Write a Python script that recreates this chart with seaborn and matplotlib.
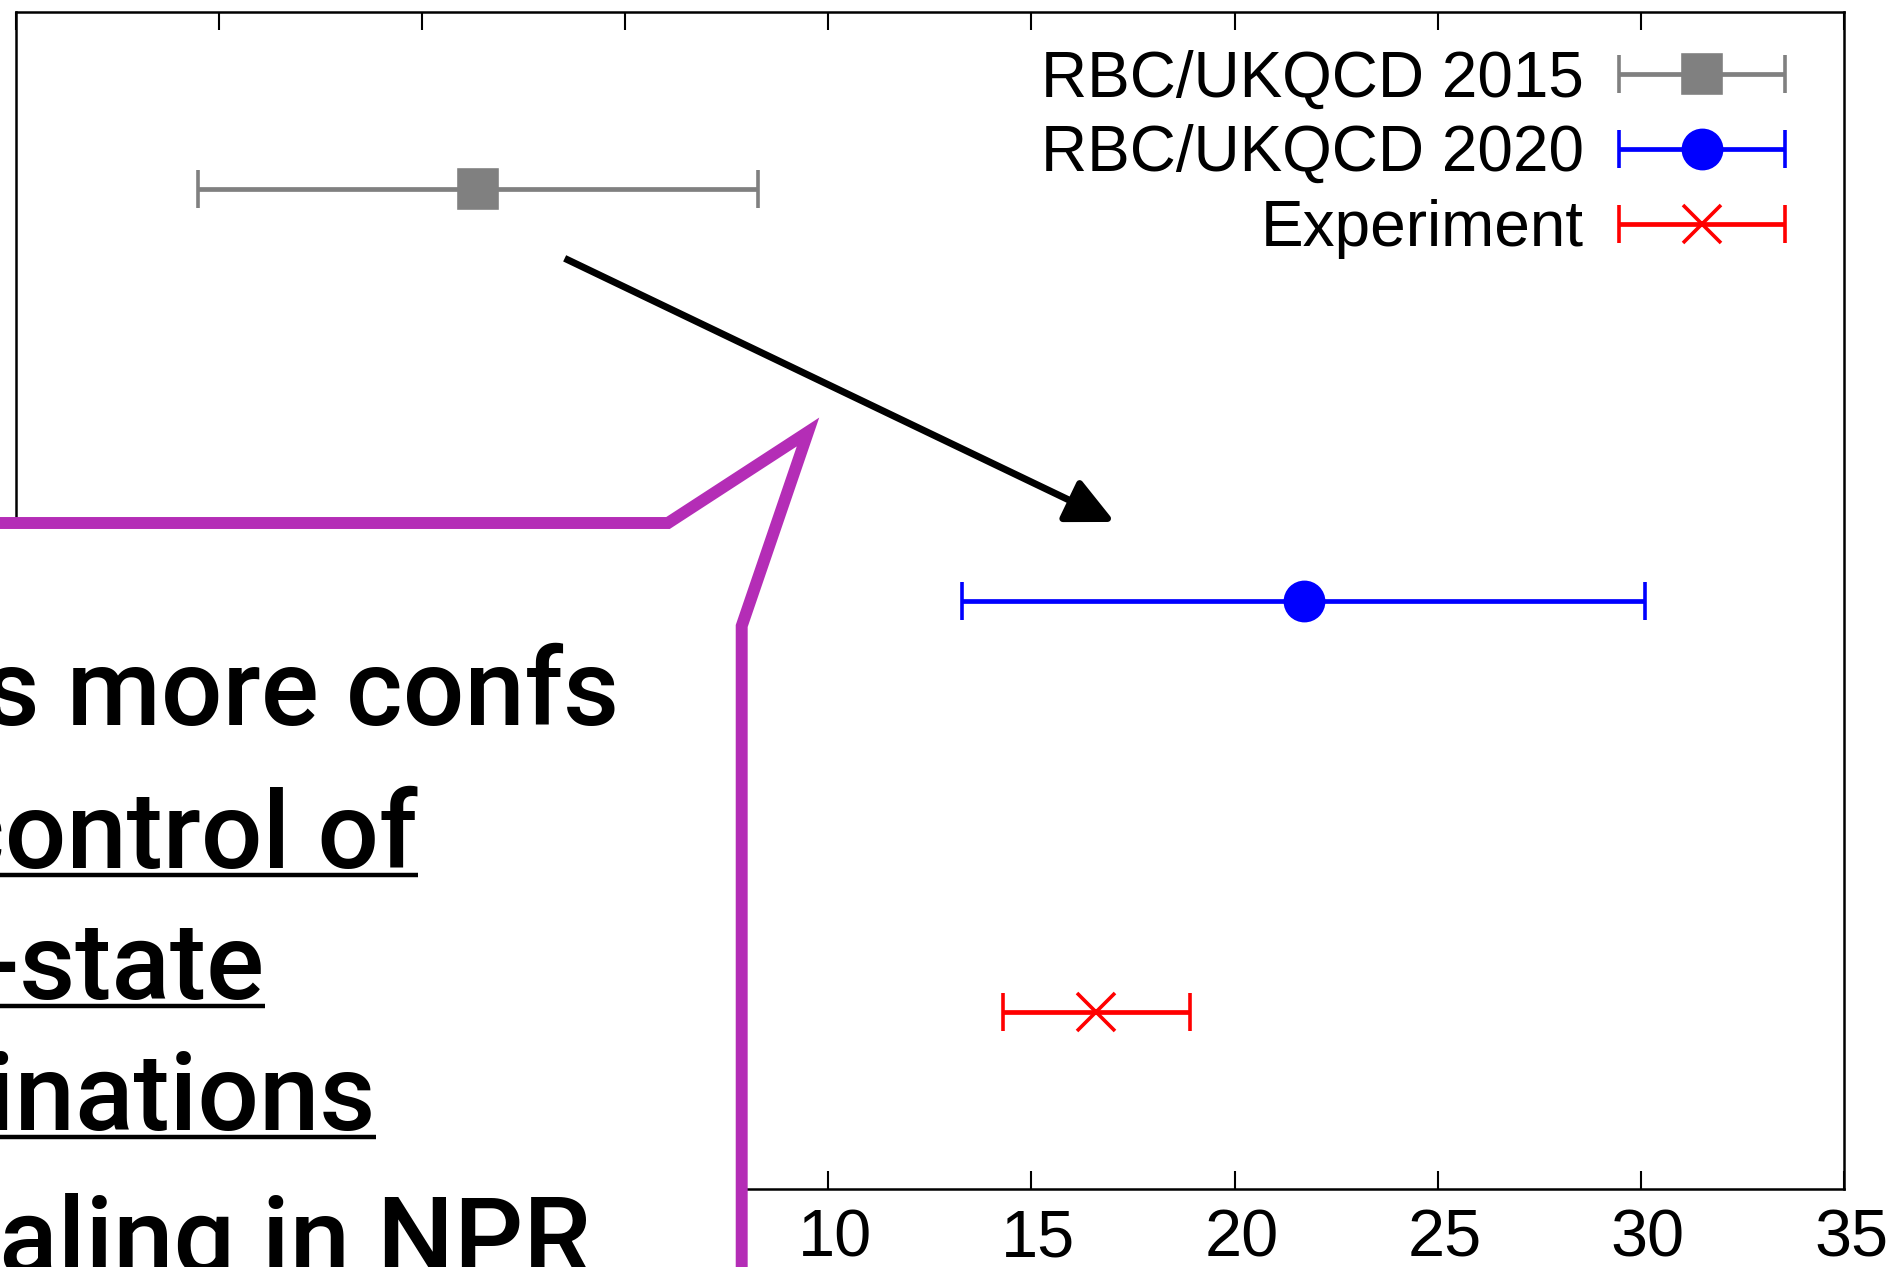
import numpy as np
import matplotlib
matplotlib.use("Agg")
import matplotlib.pyplot as plt
import seaborn as sns
from matplotlib.patches import Polygon, FancyArrowPatch
from matplotlib.lines import Line2D
from matplotlib.container import ErrorbarContainer
from matplotlib.legend_handler import HandlerErrorbar
from matplotlib.transforms import ScaledTranslation

# ---------------- data ----------------
labels = ["RBC/UKQCD 2015", "RBC/UKQCD 2020", "Experiment"]
central = [1.38, 21.7, 16.6]
errors = [6.9, 8.4, 2.3]
rows = [3, 2, 1]
colors = ["#808080", "#0000ff", "#ff0000"]
markers = ["s", "o", "x"]
xticks = [-10, -5, 0, 5, 10, 15, 20, 25, 30, 35]
xticklabels = ["", "", "", "", "10", "15", "20", "25", "30", "35"]
callout_lines = ["Adds more confs", "Better control of", "excited-state",
                 "contaminations", "Step-scaling in NPR"]
underlined = [False, True, True, True, False]

# ---------------- style ----------------
sns.set_theme(style="white")
plt.rcParams['font.family'] = ['Liberation Sans', 'DejaVu Sans']
plt.rcParams['text.color'] = 'black'
plt.rcParams['xtick.color'] = 'black'
plt.rcParams['axes.labelcolor'] = 'black'

W, H = 1900, 1267
fig = plt.figure(figsize=(W / 100, H / 100), dpi=100)
fig.patch.set_facecolor("white")

def fp(x, y):
    """pixel (top-left origin) -> figure fraction"""
    return (x / W, 1 - y / H)

ax_l, ax_r, ax_t, ax_b = 15.8, 1844, 12, 1189
ax = fig.add_axes([ax_l / W, 1 - ax_b / H, (ax_r - ax_l) / W, (ax_b - ax_t) / H])
ax.set_facecolor("white")

for lab, c, e, r, col, m in zip(labels, central, errors, rows, colors, markers):
    ms = 27 if m == "x" else 27.5
    ax.errorbar(c, r, xerr=e, fmt=m, color=col, ms=ms, mew=2.6,
                elinewidth=3.4, capsize=14, capthick=2.6, label=lab, zorder=3)

ax.set_xlim(-10, 35)
ax.set_ylim(0.569, 3.431)
ax.set_xticks(xticks)
ax.set_xticklabels(xticklabels)
ax.set_yticks([])
ax.tick_params(axis="x", direction="in", top=True, bottom=True, length=13,
               width=1.5, labelsize=48, pad=14, colors="black")
shift = ScaledTranslation(7 / 100, 0, fig.dpi_scale_trans)
for lbl in ax.get_xticklabels():
    lbl.set_transform(lbl.get_transform() + shift)
for s in ax.spines.values():
    s.set_visible(True)
    s.set_color("black")
    s.set_linewidth(1.8)

leg = ax.legend(loc="upper right", bbox_to_anchor=(0.9817, 0.9898),
                borderaxespad=0, markerfirst=False, frameon=False,
                fontsize=46, handlelength=2.6, handletextpad=0.55,
                labelspacing=0.23, numpoints=1, labelcolor="black",
                handler_map={ErrorbarContainer: HandlerErrorbar(xerr_size=1.3)})

# arrow 2015 -> 2020
arrow = FancyArrowPatch((3.51, 2.832), (17.05, 2.191),
                        arrowstyle="-|>,head_length=29,head_width=14",
                        mutation_scale=1, color="black", lw=5,
                        shrinkA=0, shrinkB=0, capstyle="butt", zorder=4)
ax.add_patch(arrow)

# callout box
purple = "#b42db6"
pts = [fp(-30, 523), fp(668, 523), fp(808, 432), fp(741.7, 626),
       fp(741.7, 1320), fp(-30, 1320)]
poly = Polygon(pts, closed=True, facecolor="white", edgecolor=purple,
               lw=8.6, joinstyle="miter", transform=fig.transFigure, zorder=5)
fig.add_artist(poly)

right_ends = [619, 418, 265, 376, 591]
baselines = [725, 868, 999, 1130, 1274]
texts = []
for txt, xr, yb in zip(callout_lines, right_ends, baselines):
    t = fig.text(*fp(xr, yb), txt, ha="right", va="baseline", fontsize=78,
                 family=["Roboto", "DejaVu Sans"], fontweight="medium",
                 color="black", zorder=6)
    texts.append(t)

fig.canvas.draw()
renderer = fig.canvas.get_renderer()
for t, ul, yb in zip(texts, underlined, baselines):
    if ul:
        bb = t.get_window_extent(renderer)
        yu = yb + 7
        line = Line2D([max(bb.x0, -5) / W, bb.x1 / W], [1 - yu / H, 1 - yu / H],
                      transform=fig.transFigure, color="black", lw=3.2,
                      solid_capstyle="butt", zorder=6)
        fig.add_artist(line)

fig.savefig("out.png", dpi=100)
